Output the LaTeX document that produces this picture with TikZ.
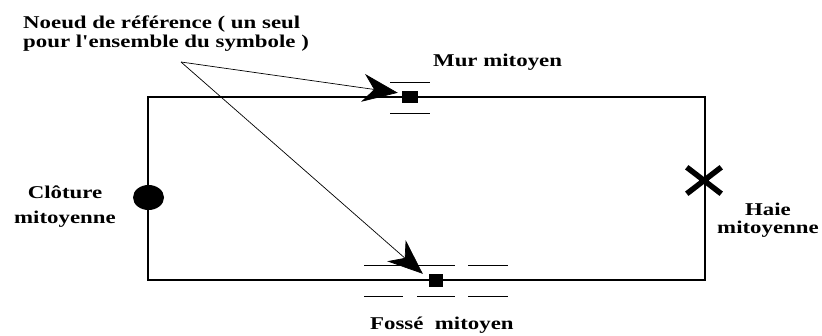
\documentclass[tikz,border=0pt]{standalone}
\usepackage{fontspec}
\newfontfamily\etiq[FakeStretch=1.27]{Liberation Serif}
\usetikzlibrary{arrows.meta,shapes.misc,shapes.geometric}
\tikzset{
  lbl/.style={font=\etiq\bfseries\fontsize{18}{19.5}\selectfont, inner sep=0pt},
  refnode/.style={fill=black, inner sep=0pt, minimum width=16pt, minimum height=12pt},
  fleche/.style={line width=0.7pt, -{Stealth[length=35pt,width=28pt,inset=11pt]}}
}
\begin{document}
\begin{tikzpicture}[x=1pt,y=-1pt]
    \useasboundingbox (0,0) rectangle (822,335);
    \draw[line width=1.1pt] (148,97)--(705,97)--(705,280)--(148,280)--cycle;
    % traits du mur et du fosse
    \draw[line width=0.8pt] (390,82)--(430,82);
    \draw[line width=0.8pt] (390,113)--(430,113);
    \foreach \a/\b in {364/403,417/455,468/508}{
      \draw[line width=0.8pt] (\a,265)--(\b,265);
      \draw[line width=0.8pt] (\a,296)--(\b,296);
    }
    \node[refnode] (mur) at (410,97) {};
    \node[refnode, minimum width=14pt, minimum height=13pt] (fosse) at (436,280.5) {};
    \node[ellipse, fill=black, inner sep=0pt, minimum width=31pt, minimum height=25pt] (cloture) at (148.5,197.5) {};
    \node[cross out, draw, line width=5.5pt, inner sep=0pt, minimum width=29pt, minimum height=21pt] (haie) at (704,180.5) {};
    \node[lbl, anchor=base west, align=left] (titre) at (23,47.5) {Noeud de référence ( un seul\\pour l'ensemble du symbole )};
    \coordinate (depart) at (181,62);
    \draw[fleche] (depart)--([xshift=-4pt,yshift=-2pt]mur.north west);
    \draw[fleche] (depart)--([xshift=-6pt]fosse.north west);
    \node[lbl, anchor=base west] (murtxt) at (433,66) {Mur mitoyen};
    \node[lbl, anchor=base, align=center] (cloturetxt) at (65,223) {Clôture\\[5.5pt]mitoyenne};
    \node[lbl, anchor=base, align=center] (haietxt) at (768,233) {Haie\\[-1.5pt]mitoyenne};
    \node[lbl, anchor=base west] (fossetxt) at (370,329) {Fossé\ \ mitoyen};
\end{tikzpicture}
\end{document}
